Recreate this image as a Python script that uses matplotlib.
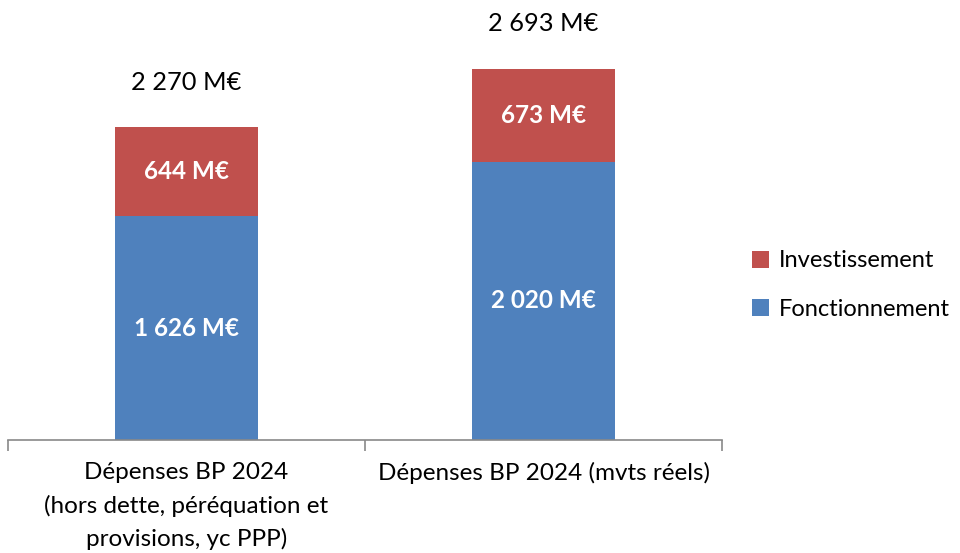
import matplotlib.pyplot as plt
import numpy as np

plt.rcParams['font.family'] = ['Lato', 'DejaVu Sans']

categories = ["Dépenses BP 2024\n(hors dette, péréquation et\nprovisions, yc PPP)",
              "Dépenses BP 2024 (mvts réels)"]
fonctionnement = [1626, 2020]
investissement = [644, 673]
totaux = [2270, 2693]

def fmt(v):
    return f"{v:,}".replace(",", " ") + " M€"

rouge = '#C0504D'
bleu = '#4F81BD'
gris = '#898989'

fig = plt.figure(figsize=(9.6, 5.53), dpi=100)
ax = fig.add_axes([8/960, 113/553, 714/960, 413/553])

x = np.arange(len(categories))
b1 = ax.bar(x, fonctionnement, width=0.4, color=bleu, label='Fonctionnement')
b2 = ax.bar(x, investissement, width=0.4, bottom=fonctionnement, color=rouge, label='Investissement')

for i in range(len(categories)):
    ax.text(x[i], fonctionnement[i] / 2, fmt(fonctionnement[i]), ha='center', va='center',
            color='white', fontsize=17.5, fontweight='bold')
    ax.text(x[i], fonctionnement[i] + investissement[i] / 2, fmt(investissement[i]), ha='center',
            va='center', color='white', fontsize=17.5, fontweight='bold')
    ax.text(x[i], totaux[i] + 330, fmt(totaux[i]), ha='center', va='center', color='black', fontsize=18.3)

ax.set_xlim(-0.5, 1.5)
ax.set_ylim(0, 3000)
for s in ['top', 'right', 'left']:
    ax.spines[s].set_visible(False)
ax.spines['bottom'].set_color(gris)
ax.spines['bottom'].set_linewidth(1.2)
ax.set_yticks([])
ax.set_xticks(x)
ax.set_xticklabels(categories, fontsize=17.5, linespacing=1.62)
ax.tick_params(axis='x', which='major', length=0, pad=16)
ax.set_xticks([-0.5, 0.5, 1.5], minor=True)
ax.tick_params(axis='x', which='minor', length=8, width=1.2, color=gris, direction='out')

handles = [b2, b1]
fig.legend(handles, [h.get_label() for h in handles], loc='center left',
           bbox_to_anchor=(745/960, 268/553), frameon=False, fontsize=17,
           handlelength=0.72, handleheight=0.72, handletextpad=0.4, labelspacing=1.15,
           borderaxespad=0, borderpad=0.3)

fig.savefig('out.png', dpi=100)
